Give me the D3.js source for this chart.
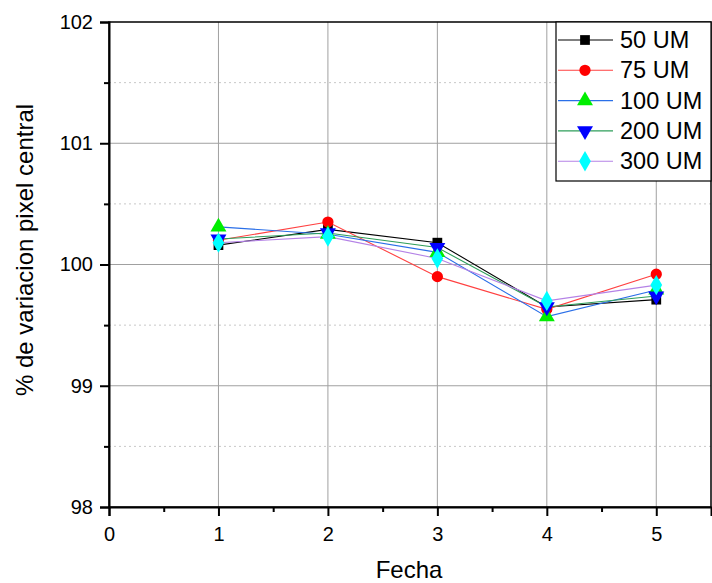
<!DOCTYPE html>
<html>
<head>
<meta charset="utf-8">
<script src="https://cdn.jsdelivr.net/npm/d3@7/dist/d3.min.js"></script>
<style>
  html, body { margin: 0; padding: 0; background: #fff; }
  svg { display: block; font-family: Arial, "Liberation Sans", sans-serif; }
</style>
</head>
<body>
<svg id="chart" width="712" height="583"></svg>
<script>
// Measurement dates (x) and % variation of central pixel per aperture size
const fechas = [1, 2, 3, 4, 5];
const seriesNames = ["50 UM", "75 UM", "100 UM", "200 UM", "300 UM"];
const um50  = [100.16, 100.29, 100.18, 99.65, 99.71];
const um75  = [100.20, 100.35, 99.90, 99.63, 99.92];
const um100 = [100.31, 100.25, 100.10, 99.57, 99.79];
const um200 = [100.21, 100.26, 100.14, 99.65, 99.74];
const um300 = [100.18, 100.23, 100.05, 99.70, 99.83];
const xTicks = [0, 1, 2, 3, 4, 5];
const yTicks = [98, 99, 100, 101, 102];

const lineColors = ["#000000", "#ff4040", "#2a6fe8", "#2e9e5a", "#b482e6"];
const markerFill = ["#000000", "#ff0000", "#00ee00", "#0000ff", "#00ffff"];
const markerType = [d3.symbolSquare, d3.symbolCircle, d3.symbolTriangle, d3.symbolTriangle, d3.symbolDiamond];
const markerSize = [95, 100, 110, 110, 120];
const markerRot  = [0, 0, 0, 180, 0];

const values = [um50, um75, um100, um200, um300];

const svg = d3.select("#chart");
const m = { left: 109, right: 711, top: 22, bottom: 507 };

const x = d3.scaleLinear().domain([0, 5.5]).range([m.left, m.right]);
const y = d3.scaleLinear().domain([98, 102]).range([m.bottom, m.top]);

// grid: major solid, minor dotted
const g = svg.append("g");
const majorY = [99, 100, 101];
const minorY = [98.5, 99.5, 100.5, 101.5];
g.selectAll(".gy").data(majorY).join("line")
  .attr("x1", m.left).attr("x2", m.right)
  .attr("y1", d => y(d)).attr("y2", d => y(d))
  .attr("stroke", "#a0a0a0").attr("stroke-width", 1);
g.selectAll(".gym").data(minorY).join("line")
  .attr("x1", m.left).attr("x2", m.right)
  .attr("y1", d => y(d)).attr("y2", d => y(d))
  .attr("stroke", "#c8c8c8").attr("stroke-width", 1).attr("stroke-dasharray", "2,3");
g.selectAll(".gx").data(fechas).join("line")
  .attr("y1", m.top).attr("y2", m.bottom)
  .attr("x1", d => x(d)).attr("x2", d => x(d))
  .attr("stroke", "#a0a0a0").attr("stroke-width", 1);

// frame
svg.append("rect").attr("x", m.left).attr("y", m.top)
  .attr("width", m.right - m.left).attr("height", m.bottom - m.top)
  .attr("fill", "none").attr("stroke", "#000").attr("stroke-width", 1.5);

// axes
const xAxis = d3.axisBottom(x).tickValues(xTicks).tickSize(9).tickPadding(11).tickFormat(d3.format("d"));
const xg = svg.append("g").attr("transform", `translate(0,${m.bottom})`).call(xAxis);
const xMinor = d3.axisBottom(x).tickValues([0.5, 1.5, 2.5, 3.5, 4.5]).tickSize(5).tickFormat("");
svg.append("g").attr("transform", `translate(0,${m.bottom})`).call(xMinor)
  .call(s => s.select(".domain").remove());

const yAxis = d3.axisLeft(y).tickValues(yTicks).tickSize(9).tickPadding(7).tickFormat(d3.format("d"));
const yg = svg.append("g").attr("transform", `translate(${m.left},0)`).call(yAxis);
const yMinor = d3.axisLeft(y).tickValues(minorY).tickSize(5).tickFormat("");
svg.append("g").attr("transform", `translate(${m.left},0)`).call(yMinor)
  .call(s => s.select(".domain").remove());

[xg, yg].forEach(a => {
  a.select(".domain").attr("stroke", "#000").attr("stroke-width", 2);
  a.selectAll(".tick text").attr("fill", "#000").style("font-size", "20px")
    .style("font-family", "Arial, 'Liberation Sans', sans-serif");
});
svg.selectAll("g .tick line").attr("stroke", "#000").attr("stroke-width", 2);

// axis titles
svg.append("text").attr("x", 409).attr("y", 578)
  .attr("text-anchor", "middle").style("font-size", "24px").text("Fecha");
svg.append("text")
  .attr("transform", `translate(33,250) rotate(-90)`)
  .attr("text-anchor", "middle").style("font-size", "24px").text("% de variacion pixel central");

// series
const line = d3.line().x((d, i) => x(fechas[i])).y(d => y(d));
values.forEach((vals, k) => {
  svg.append("path").datum(vals).attr("d", line)
    .attr("fill", "none").attr("stroke", lineColors[k]).attr("stroke-width", 1.1);
});
values.forEach((vals, k) => {
  const sym = d3.symbol().type(markerType[k]).size(markerSize[k]);
  svg.append("g").selectAll("path").data(vals).join("path")
    .attr("d", sym)
    .attr("transform", (d, i) => `translate(${x(fechas[i])},${y(d)}) rotate(${markerRot[k]})`)
    .attr("fill", markerFill[k]);
});

// legend
const lg = svg.append("g");
lg.append("rect").attr("x", 556).attr("y", 22).attr("width", 155).attr("height", 159)
  .attr("fill", "#fff").attr("stroke", "#000").attr("stroke-width", 1.2);
seriesNames.forEach((name, k) => {
  const ly = 40 + k * 30.3;
  lg.append("line").attr("x1", 558).attr("x2", 613).attr("y1", ly).attr("y2", ly)
    .attr("stroke", lineColors[k]).attr("stroke-width", 1.1);
  lg.append("path").attr("d", d3.symbol().type(markerType[k]).size(markerSize[k])())
    .attr("transform", `translate(585,${ly}) rotate(${markerRot[k]})`)
    .attr("fill", markerFill[k]);
  lg.append("text").attr("x", 620).attr("y", ly + 8)
    .style("font-size", "23.5px").attr("fill", "#000").text(name);
});
</script>
</body>
</html>
